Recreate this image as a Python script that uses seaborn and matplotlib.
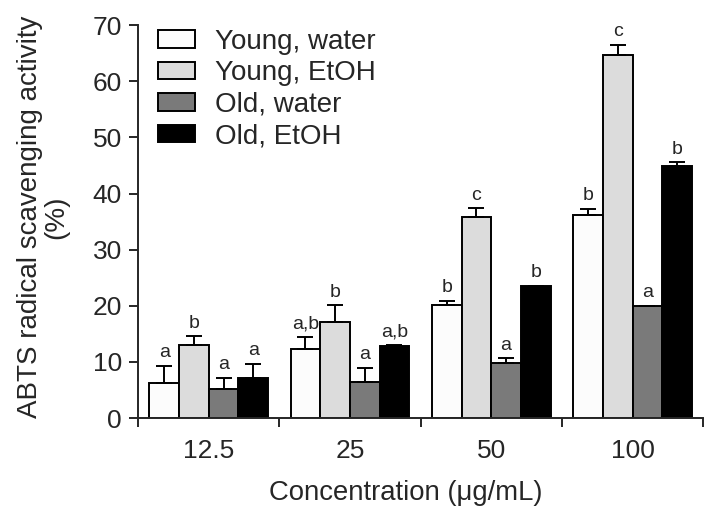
#!/usr/bin/env python3
"""ABTS radical scavenging activity by concentration and extract."""

import numpy as np
import pandas as pd
import matplotlib
matplotlib.use("Agg")
import matplotlib.pyplot as plt
import seaborn as sns

# data
concentrations = ["12.5", "25", "50", "100"]
groups = ["Young, water", "Young, EtOH", "Old, water", "Old, EtOH"]

young_water = [6.2, 12.3, 20.2, 36.2]
young_etoh = [13.0, 17.2, 35.9, 64.6]
old_water = [5.1, 6.5, 9.8, 20.0]
old_etoh = [7.2, 12.9, 23.6, 44.9]

young_water_err = [3.1, 2.2, 0.7, 1.1]
young_etoh_err = [1.6, 2.9, 1.5, 1.9]
old_water_err = [2.1, 2.5, 0.9, 0.0]
old_etoh_err = [2.5, 0.15, 0.0, 0.7]

young_water_sig = ["a", "a,b", "b", "b"]
young_etoh_sig = ["b", "b", "c", "c"]
old_water_sig = ["a", "a", "a", "a"]
old_etoh_sig = ["a", "a,b", "b", "b"]

colors = ["#fcfcfc", "#dcdcdc", "#7a7a7a", "#000000"]


def build_frame() -> pd.DataFrame:
    """Long-form table for seaborn."""
    rows = []
    series = [young_water, young_etoh, old_water, old_etoh]
    for g, vals in zip(groups, series):
        for c, v in zip(concentrations, vals):
            rows.append({"conc": c, "group": g, "value": v})
    return pd.DataFrame(rows)


def main():
    sns.set_style("ticks")
    plt.rcParams["font.family"] = ["Liberation Sans", "DejaVu Sans"]

    df = build_frame()
    fig = plt.figure(figsize=(7.19, 5.22), dpi=100)
    ax = fig.add_axes([0.192, 0.199, 0.786, 0.753])

    sns.barplot(data=df, x="conc", y="value", hue="group",
                order=concentrations, hue_order=groups,
                palette=colors, edgecolor="black", linewidth=1.4,
                width=0.84, gap=0, errorbar=None, saturation=1,
                ax=ax)

    errs = [young_water_err, young_etoh_err, old_water_err, old_etoh_err]
    vals = [young_water, young_etoh, old_water, old_etoh]
    sigs = [young_water_sig, young_etoh_sig, old_water_sig, old_etoh_sig]

    # error bars (upper only) and significance letters
    for cont, v, e, s in zip(ax.containers, vals, errs, sigs):
        xs = [p.get_x() + p.get_width() / 2 for p in cont.patches]
        e = np.array(e)
        ax.errorbar(xs, v, yerr=[np.zeros_like(e), e], fmt="none",
                    ecolor="black", elinewidth=1.4, capsize=5.5,
                    capthick=1.4, zorder=1)
        for x, yv, ev, lab in zip(xs, v, e, s):
            ax.text(x, yv + ev + 0.8, lab, ha="center", va="bottom",
                    fontsize=14)

    ax.set_ylim(0, 70)
    ax.set_xlim(-0.5, 3.5)
    ax.set_yticks(range(0, 71, 10))
    ax.tick_params(axis="y", labelsize=19, length=6.5, width=1.4, pad=5)
    ax.tick_params(axis="x", which="major", labelsize=19, length=0, pad=15)
    ax.set_xticks([-0.5, 0.5, 1.5, 2.5, 3.5], minor=True)
    ax.tick_params(axis="x", which="minor", length=6.5, width=1.4)

    for side in ["top", "right"]:
        ax.spines[side].set_visible(False)
    for side in ["left", "bottom"]:
        ax.spines[side].set_linewidth(1.4)

    ax.set_xlabel("Concentration (\u03bcg/mL)", fontsize=19.8)
    ax.xaxis.set_label_coords(0.474, -0.158)
    ax.set_ylabel("ABTS radical scavenging activity\n(%)", fontsize=20,
                  linespacing=1.0)
    ax.yaxis.set_label_coords(-0.122, 0.512)

    ax.legend(loc="upper left", bbox_to_anchor=(0.2197, 0.945),
              bbox_transform=fig.transFigure, frameon=False,
              fontsize=20, handlelength=1.35, handleheight=0.58,
              handletextpad=0.7, labelspacing=0.2, borderpad=0,
              borderaxespad=0)

    fig.savefig("out.png", dpi=100)


if __name__ == "__main__":
    main()
